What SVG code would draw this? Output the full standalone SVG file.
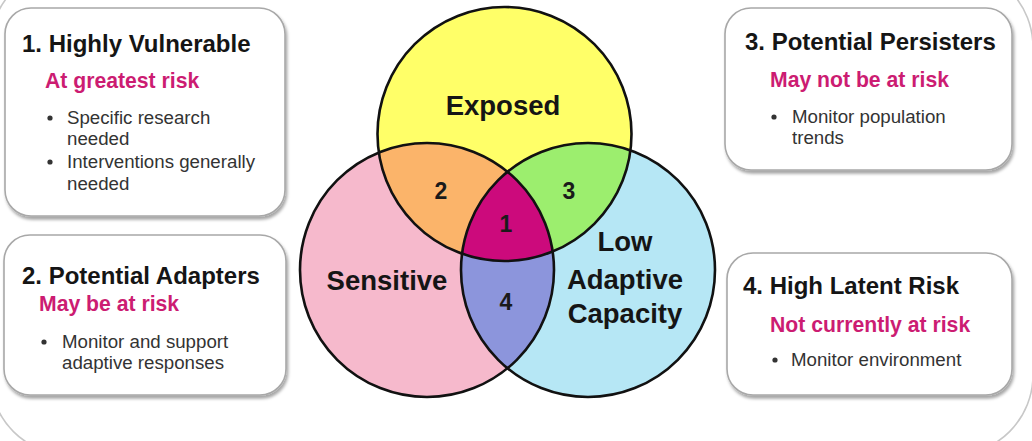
<svg xmlns="http://www.w3.org/2000/svg" width="1032" height="441" viewBox="0 0 1032 441">
<defs>
<style>
.box{fill:#fff;stroke:#a8a8a8;stroke-width:1.6}
.title{font-family:"Liberation Sans",Arial,sans-serif;font-weight:bold;font-size:24px;fill:#151515}
.sub{font-family:"Liberation Sans",Arial,sans-serif;font-weight:bold;font-size:21.2px;fill:#cc1c72}
.bul{font-family:"Liberation Sans",Arial,sans-serif;font-size:18.7px;fill:#333}
.dot{fill:#333}
.lbl{font-family:"Liberation Sans",Arial,sans-serif;font-weight:bold;font-size:27.5px;fill:#151515;text-anchor:middle}
.num{font-family:"Liberation Sans",Arial,sans-serif;font-weight:bold;font-size:23px;fill:#1a1a1a;text-anchor:middle}
.ring{fill:none;stroke:#111;stroke-width:2.6}
</style>
<filter id="sh" x="-10%" y="-10%" width="120%" height="130%">
<feDropShadow dx="1.5" dy="3" stdDeviation="1.8" flood-color="#000" flood-opacity="0.35"/>
</filter>
<clipPath id="cE"><circle cx="504.5" cy="134" r="127"/></clipPath>
<clipPath id="cS"><circle cx="427" cy="270" r="127"/></clipPath>
<clipPath id="cL"><circle cx="588" cy="270" r="127"/></clipPath>
</defs>
<rect x="0" y="0" width="1032" height="441" fill="#fff"/>
<rect id="frame" x="-10" y="-33" width="1043" height="488" rx="80" fill="none" stroke="#c8c8c8" stroke-width="1.6"/>

<g id="venn">
<circle cx="504.5" cy="134" r="127" fill="#ffff68"/>
<circle cx="427" cy="270" r="127" fill="#f6b9cc"/>
<circle cx="588" cy="270" r="127" fill="#b6e7f5"/>
<circle cx="427" cy="270" r="127" fill="#fbb46a" clip-path="url(#cE)"/>
<circle cx="588" cy="270" r="127" fill="#9cee6e" clip-path="url(#cE)"/>
<circle cx="588" cy="270" r="127" fill="#8c95dc" clip-path="url(#cS)"/>
<g clip-path="url(#cE)"><circle cx="588" cy="270" r="127" fill="#cc0a7c" clip-path="url(#cS)"/></g>
<circle class="ring" cx="504.5" cy="134" r="127"/>
<circle class="ring" cx="427" cy="270" r="127"/>
<circle class="ring" cx="588" cy="270" r="127"/>
</g>
<g id="venn-labels">
<text class="lbl" x="503" y="115">Exposed</text>
<text class="lbl" x="387" y="290">Sensitive</text>
<text class="lbl" x="625" y="251">Low</text>
<text class="lbl" x="625" y="289">Adaptive</text>
<text class="lbl" x="625" y="323">Capacity</text>
<text class="num" x="441" y="199">2</text>
<text class="num" x="569" y="199">3</text>
<text class="num" x="506" y="232">1</text>
<text class="num" x="506" y="310">4</text>
</g>

<g id="box1">
<rect class="box" x="5" y="8" width="280" height="208" rx="26" filter="url(#sh)"/>
<text class="title" x="22" y="52">1. Highly Vulnerable</text>
<text class="sub" x="45" y="88">At greatest risk</text>
<circle class="dot" cx="50" cy="118" r="2.6"/>
<text class="bul" x="67" y="124">Specific research</text>
<text class="bul" x="67" y="145">needed</text>
<circle class="dot" cx="50" cy="162" r="2.6"/>
<text class="bul" x="67" y="168">Interventions generally</text>
<text class="bul" x="67" y="190">needed</text>
</g>

<g id="box2">
<rect class="box" x="4" y="235" width="282" height="160" rx="26" filter="url(#sh)"/>
<text class="title" x="22" y="284">2. Potential Adapters</text>
<text class="sub" x="39" y="311">May be at risk</text>
<circle class="dot" cx="44" cy="342" r="2.6"/>
<text class="bul" x="62" y="348">Monitor and support</text>
<text class="bul" x="62" y="369">adaptive responses</text>
</g>

<g id="box3">
<rect class="box" x="725" y="8" width="287" height="162" rx="26" filter="url(#sh)"/>
<text class="title" x="745" y="50">3. Potential Persisters</text>
<text class="sub" x="770" y="87">May not be at risk</text>
<circle class="dot" cx="774" cy="117" r="2.6"/>
<text class="bul" x="792" y="123">Monitor population</text>
<text class="bul" x="792" y="144">trends</text>
</g>

<g id="box4">
<rect class="box" x="727" y="253" width="285" height="142" rx="26" filter="url(#sh)"/>
<text class="title" x="743" y="294">4. High Latent Risk</text>
<text class="sub" x="770" y="332">Not currently at risk</text>
<circle class="dot" cx="775" cy="360" r="2.6"/>
<text class="bul" x="791" y="366">Monitor environment</text>
</g>

<g id="connectors"/>
</svg>
